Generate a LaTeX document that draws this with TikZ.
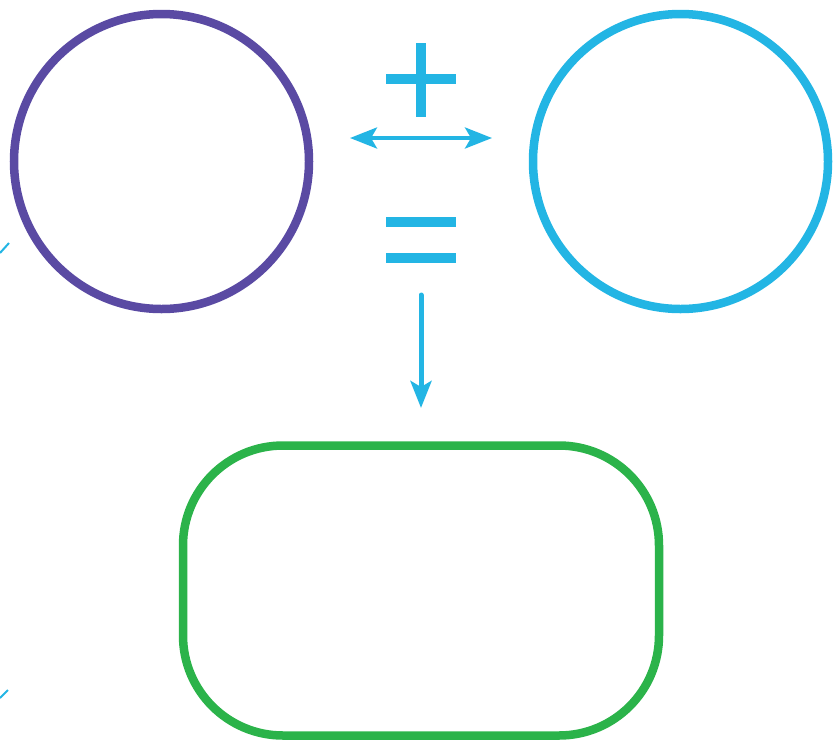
\documentclass[tikz,border=0pt]{standalone}
\usepackage{xcolor}
\usepackage{tikz}
\usetikzlibrary{arrows.meta,positioning}
\definecolor{morado}{HTML}{5A4AA3}
\definecolor{celeste}{HTML}{23B5E4}
\definecolor{verde}{HTML}{2BB34A}

\begin{document}
\begin{tikzpicture}[x=1pt, y=-1pt,
  ring/.style={circle, line width=8.5pt, minimum size=295pt, inner sep=0pt},
  result/.style={rectangle, draw=verde, line width=8.5pt, rounded corners=100pt,
    minimum width=476pt, minimum height=290pt, inner sep=0pt},
  bar/.style={fill=celeste},
  link/.style={draw=celeste, line width=4.5pt},
  >={Stealth[length=27pt, width=21pt, inset=6pt]}
]
\useasboundingbox (0,0) rectangle (838,740);
\node[ring, draw=morado]  (left)  at (161.5,161.5) {};
\node[ring, draw=celeste] (right) at (680.5,161.5) {};
\node[result] (sum) at (421,590.5) {};
% plus and equals signs
\fill[bar] (415.5,43) rectangle (426,117);
\fill[bar] (386,74) rectangle (456,84);
\fill[bar] (386,217) rectangle (456,227);
\fill[bar] (386,253) rectangle (456,263);
% arrows
\coordinate (pairA) at (350,138);
\coordinate (pairB) at (492,138);
\coordinate (downA) at (421,295);
\coordinate (downB) at (421,408);
\draw[link, line width=4pt, <->] (pairA) -- (pairB);
\draw[link, line width=5pt, ->, line cap=round] (downA) -- (downB);
% cut-off marks at the left edge
\coordinate (markA) at (0,253);
\coordinate (markB) at (9,243);
\coordinate (markC) at (0,698);
\coordinate (markD) at (8,690);
\draw[draw=celeste, line width=2pt] (markA) -- (markB);
\draw[draw=celeste, line width=2pt] (markC) -- (markD);
\end{tikzpicture}
\end{document}
